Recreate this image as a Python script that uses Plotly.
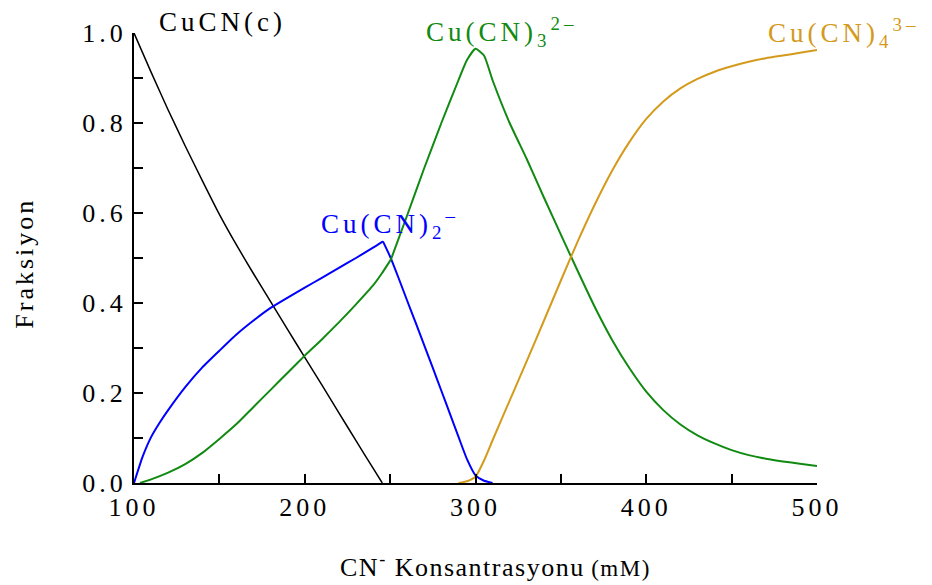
import plotly.graph_objects as go

# ---- data ----
cucn_x = [100, 110, 120, 130, 140, 150, 160, 170, 180, 190, 200, 210, 220, 230, 240, 245.4]
cucn_y = [1.0, 0.913, 0.829, 0.749, 0.672, 0.597, 0.529, 0.465, 0.403, 0.341, 0.279, 0.218,
          0.156, 0.094, 0.033, 0.0]

cu2_rise_x = [100, 105, 110, 115, 120, 130, 140, 150, 160, 170, 180, 190, 200, 210, 220, 230,
              240, 245.8]
cu2_rise_y = [0.0, 0.058, 0.102, 0.134, 0.162, 0.213, 0.257, 0.294, 0.33, 0.361, 0.389, 0.412,
              0.434, 0.456, 0.478, 0.5, 0.523, 0.537]
cu2_fall_x = [245.8, 250, 255, 260, 265, 270, 275, 280, 285, 290, 295, 300, 305, 310]
cu2_fall_y = [0.537, 0.503, 0.455, 0.405, 0.356, 0.306, 0.256, 0.205, 0.154, 0.103, 0.053,
              0.017, 0.005, 0.0]

cu3_rise_x = [103.5, 110, 120, 130, 140, 150, 160, 170, 180, 190, 200, 210, 220, 230, 240, 245,
              250.5]
cu3_rise_y = [0.0, 0.008, 0.023, 0.042, 0.067, 0.098, 0.131, 0.169, 0.207, 0.245, 0.283, 0.319,
              0.357, 0.397, 0.439, 0.465, 0.497]
cu3_fall_x = [250.5, 260, 270, 280, 290, 295, 300, 305, 310, 320, 330, 340, 350, 360, 370, 380,
              390, 400, 410, 420, 430, 440, 450, 460, 470, 480, 490, 500]
cu3_fall_y = [0.497, 0.595, 0.70, 0.80, 0.895, 0.94, 0.965, 0.95, 0.895, 0.80, 0.72, 0.635,
              0.552, 0.47, 0.39, 0.318, 0.256, 0.203, 0.162, 0.13, 0.106, 0.088, 0.073, 0.062,
              0.054, 0.048, 0.043, 0.038]

cu4_x = [290, 295, 300, 305, 310, 320, 330, 340, 350, 360, 370, 380, 390, 400, 410, 420, 430,
         440, 450, 460, 470, 480, 490, 500]
cu4_y = [0.0, 0.004, 0.014, 0.05, 0.095, 0.183, 0.271, 0.36, 0.45, 0.538, 0.62, 0.694, 0.757,
         0.809, 0.848, 0.877, 0.898, 0.914, 0.926, 0.936, 0.944, 0.95, 0.956, 0.962]

x_major = [100, 200, 300, 400, 500]
x_minor = [150, 250, 350, 450]
y_major = [0.0, 0.2, 0.4, 0.6, 0.8, 1.0]
y_minor = [0.1, 0.3, 0.5, 0.7, 0.9]

C_BLACK = "#000000"
C_BLUE = "#0000ff"
C_GREEN = "#118a11"
C_ORANGE = "#d49a1c"
FONT = "Liberation Serif"


def sp(t, ls=4):
    return f"<span style='letter-spacing:{ls}px'>{t}</span>"


fig = go.Figure()


def add_line(xs, ys, col, w):
    fig.add_trace(go.Scatter(x=xs, y=ys, mode="lines",
                             line=dict(color=col, width=w, shape="spline", smoothing=0.5),
                             cliponaxis=False, showlegend=False, hoverinfo="skip"))


add_line(cucn_x, cucn_y, C_BLACK, 1.5)
add_line(cu2_rise_x, cu2_rise_y, C_BLUE, 2)
add_line(cu2_fall_x, cu2_fall_y, C_BLUE, 2)
add_line(cu3_rise_x, cu3_rise_y, C_GREEN, 2)
add_line(cu3_fall_x, cu3_fall_y, C_GREEN, 2)
add_line(cu4_x, cu4_y, C_ORANGE, 2)

axis_common = dict(showgrid=False, zeroline=False, showline=True, linecolor="black", linewidth=2,
                   ticks="inside", ticklen=9, tickwidth=2, tickcolor="black",
                   tickfont=dict(family=FONT, size=26))

# page body has an 8px margin, so the figure is shrunk/offset to land on the reference pixels
fig.update_layout(
    width=924, height=577,
    margin=dict(l=126, r=115, t=25, b=102),
    paper_bgcolor="white", plot_bgcolor="white",
    font=dict(family=FONT, size=26, color="black"),
    xaxis=dict(range=[100, 500], tickmode="array", tickvals=x_major,
               ticktext=[sp(str(v)) for v in x_major],
               minor=dict(tickmode="array", tickvals=x_minor, ticks="inside", ticklen=9,
                          tickwidth=2, tickcolor="black", showgrid=False),
               **axis_common),
    yaxis=dict(range=[0, 1], tickmode="array", tickvals=y_major,
               ticktext=[sp(f"{v:.1f}") for v in y_major],
               minor=dict(tickmode="array", tickvals=y_minor, ticks="inside", ticklen=9,
                          tickwidth=2, tickcolor="black", showgrid=False),
               **axis_common),
)

anns = [
    dict(x=0.035, y=1.024, text=sp("CuCN(c)", 4), color=C_BLACK),
    dict(x=0.426, y=1.002, text=sp("Cu(CN)<sub>3</sub><sup>2–</sup>", 4), color=C_GREEN),
    dict(x=0.927, y=1.0, text=sp("Cu(CN)<sub>4</sub><sup>3–</sup>", 4), color=C_ORANGE),
    dict(x=0.272, y=0.576, text=sp("Cu(CN)<sub>2</sub><sup>–</sup>", 4), color=C_BLUE),
]
for a in anns:
    fig.add_annotation(x=a["x"], y=a["y"], xref="paper", yref="paper", text=a["text"],
                       showarrow=False, xanchor="left", yanchor="middle", borderpad=0,
                       font=dict(family=FONT, size=27, color=a["color"]))

fig.add_annotation(x=0.529, y=-0.184, xref="paper", yref="paper", showarrow=False,
                   xanchor="center", yanchor="middle",
                   text=sp("CN<sup>-</sup> Konsantrasyonu", 1.5) + " "
                        + "<span style='font-size:23px;letter-spacing:1.5px'>(mM)</span>",
                   font=dict(family=FONT, size=26, color="black"))
fig.add_annotation(x=-0.16, y=0.489, xref="paper", yref="paper", showarrow=False,
                   xanchor="center", yanchor="middle", textangle=-90,
                   text=sp("Fraksiyon", 3),
                   font=dict(family=FONT, size=26, color="black"))

fig.write_html("out.html")
